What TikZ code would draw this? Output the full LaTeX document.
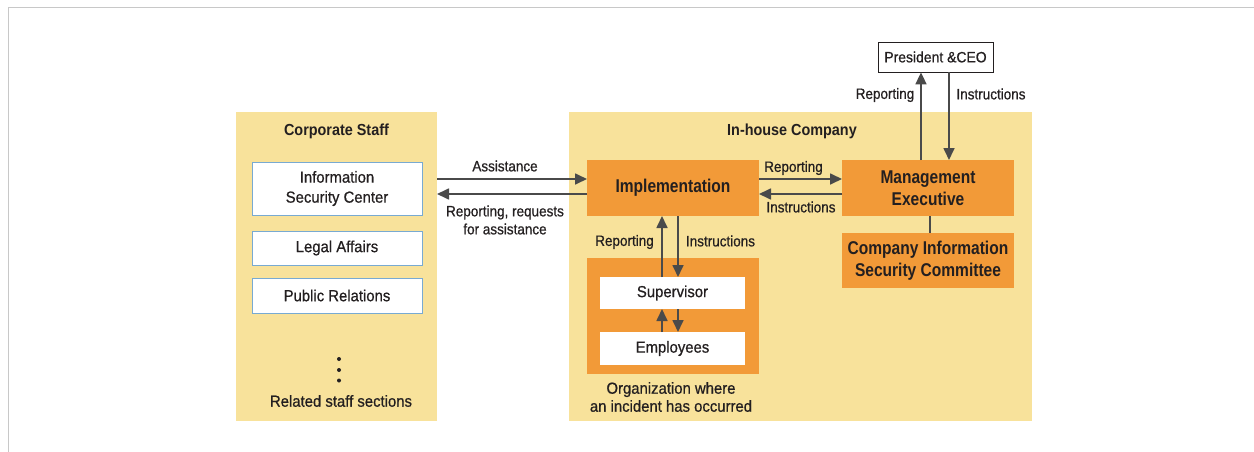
\documentclass[tikz,border=0pt]{standalone}
\usepackage{fontspec}
\setmainfont{Liberation Sans}
\newfontfamily\flab[FakeStretch=0.9,FakeBold=0.7]{Liberation Sans}
\newfontfamily\fbx[FakeStretch=0.93,FakeBold=0.7]{Liberation Sans}
\newfontfamily\fhd[FakeStretch=0.9]{Liberation Sans}
\newfontfamily\forg[FakeStretch=0.84]{Liberation Sans}
\usetikzlibrary{arrows.meta}
\definecolor{ylw}{RGB}{248,226,155}
\definecolor{orng}{RGB}{242,154,56}
\definecolor{arrc}{RGB}{74,74,74}
\definecolor{bbord}{RGB}{120,170,210}
\definecolor{frm}{RGB}{200,200,200}
\definecolor{txt}{RGB}{35,31,32}
\begin{document}
\begin{tikzpicture}[x=1pt,y=-1pt,
  panel/.style={fill=ylw,inner sep=0pt,outer sep=0pt},
  wbox/.style={fill=white,draw=bbord,line width=1pt,inner sep=0pt,outer sep=0pt,align=center,
    font=\fbx\fontsize{16}{20}\selectfont,text=txt},
  obox/.style={fill=orng,inner sep=0pt,outer sep=0pt,align=center,
    font=\forg\fontsize{18.5}{21.5}\selectfont\bfseries,text=txt},
  lab/.style={inner sep=0pt,align=center,font=\flab\fontsize{15}{18}\selectfont,text=txt},
  btxt/.style={inner sep=0pt,align=center,font=\fbx\fontsize{16}{18}\selectfont,text=txt},
  hd/.style={inner sep=0pt,font=\fhd\fontsize{16}{20}\selectfont\bfseries,text=txt},
  arr/.style={draw=arrc,line width=1.7pt,-{Triangle[length=12pt,width=11pt]}},
  conn/.style={draw=arrc,line width=1.7pt}]
\useasboundingbox (0,0) rectangle (1254,452);
% frame
\draw[frm,line width=1.5pt] (1254,7.5) -- (8.5,7.5) -- (8.5,452);
% panels
\node[panel,minimum width=201pt,minimum height=309pt] (corp) at (336.5,266.5) {};
\node[panel,minimum width=463pt,minimum height=309pt] (inh) at (800.5,266.5) {};
\node[hd] (corpt) at (336.5,131) {Corporate Staff};
\node[hd] (inht) at (792,131) {In-house Company};
% corporate staff boxes
\node[wbox,minimum width=170pt,minimum height=53pt] (isc) at (337,188.5) {Information\\Security Center};
\node[wbox,minimum width=170pt,minimum height=34pt] (legal) at (337,248) {Legal Affairs};
\node[wbox,minimum width=170pt,minimum height=35pt] (pubr) at (337,295.5) {Public Relations};
\fill[txt] (339,359) circle (2pt) (339,370) circle (2pt) (339,380.5) circle (2pt);
\node[btxt] (rel) at (341,401) {Related staff sections};
% in-house
\node[obox,minimum width=172pt,minimum height=56pt] (impl) at (673,188) {Implementation};
\node[obox,minimum width=172pt,minimum height=56pt] (me) at (928,188) {Management\\Executive};
\node[obox,minimum width=172pt,minimum height=55pt] (cisc) at (928,260.5) {Company Information\\Security Committee};
\node[obox,minimum width=172pt,minimum height=116pt] (orgb) at (673,316) {};
\node[wbox,draw=none,minimum width=145pt,minimum height=32pt] (sup) at (672.5,293) {Supervisor};
\node[wbox,draw=none,minimum width=145pt,minimum height=33pt] (emp) at (672.5,348.5) {Employees};
\node[btxt] (orgt) at (671,397) {Organization where\\an incident has occurred};
\node[draw=txt,line width=0.8pt,fill=white,minimum width=115pt,minimum height=30pt,inner sep=0pt,
  font=\fbx\fontsize{15}{18}\selectfont,text=txt] (pres) at (935.5,57) {President \&CEO};
% arrows corp <-> impl
\coordinate (i1) at ([yshift=9pt]impl.west);
\coordinate (i2) at ([yshift=-6pt]impl.west);
\draw[arr] (i1 -| corp.east) -- (i1);
\draw[arr] (i2) -- (i2 -| corp.east);
\node[lab] (l1) at (505,166) {Assistance};
\node[lab] (l2) at (505,220) {Reporting, requests\\for assistance};
% impl <-> me
\coordinate (e1) at ([yshift=9pt]impl.east);
\coordinate (e2) at ([yshift=-6pt]impl.east);
\draw[arr] (e1) -- (e1 -| me.west);
\draw[arr] (e2 -| me.west) -- (e2);
\node[lab] (l3) at (793.5,168) {Reporting};
\node[lab] (l4) at (801,207) {Instructions};
% impl <-> supervisor
\coordinate (v1) at ([xshift=-11pt]impl.south);
\coordinate (v2) at ([xshift=5pt]impl.south);
\draw[arr] (v1 |- sup.north) -- (v1);
\draw[arr] (v2) -- (v2 |- sup.north);
\draw[arr] (v1 |- emp.north) -- (v1 |- sup.south);
\draw[arr] (v2 |- sup.south) -- (v2 |- emp.north);
\node[lab] (l5) at (624.5,242) {Reporting};
\node[lab] (l6) at (720.5,241) {Instructions};
% me <-> president
\coordinate (p1) at ([xshift=-7pt]me.north);
\coordinate (p2) at ([xshift=21pt]me.north);
\draw[arr] (p1) -- (p1 |- pres.south);
\draw[arr] (p2 |- pres.south) -- (p2);
\node[lab] (l7) at (885,95) {Reporting};
\node[lab] (l8) at (991,94) {Instructions};
% me -- cisc
\coordinate (c1) at ([xshift=2pt]me.south);
\draw[conn] (c1) -- (c1 |- cisc.north);
\end{tikzpicture}
\end{document}
